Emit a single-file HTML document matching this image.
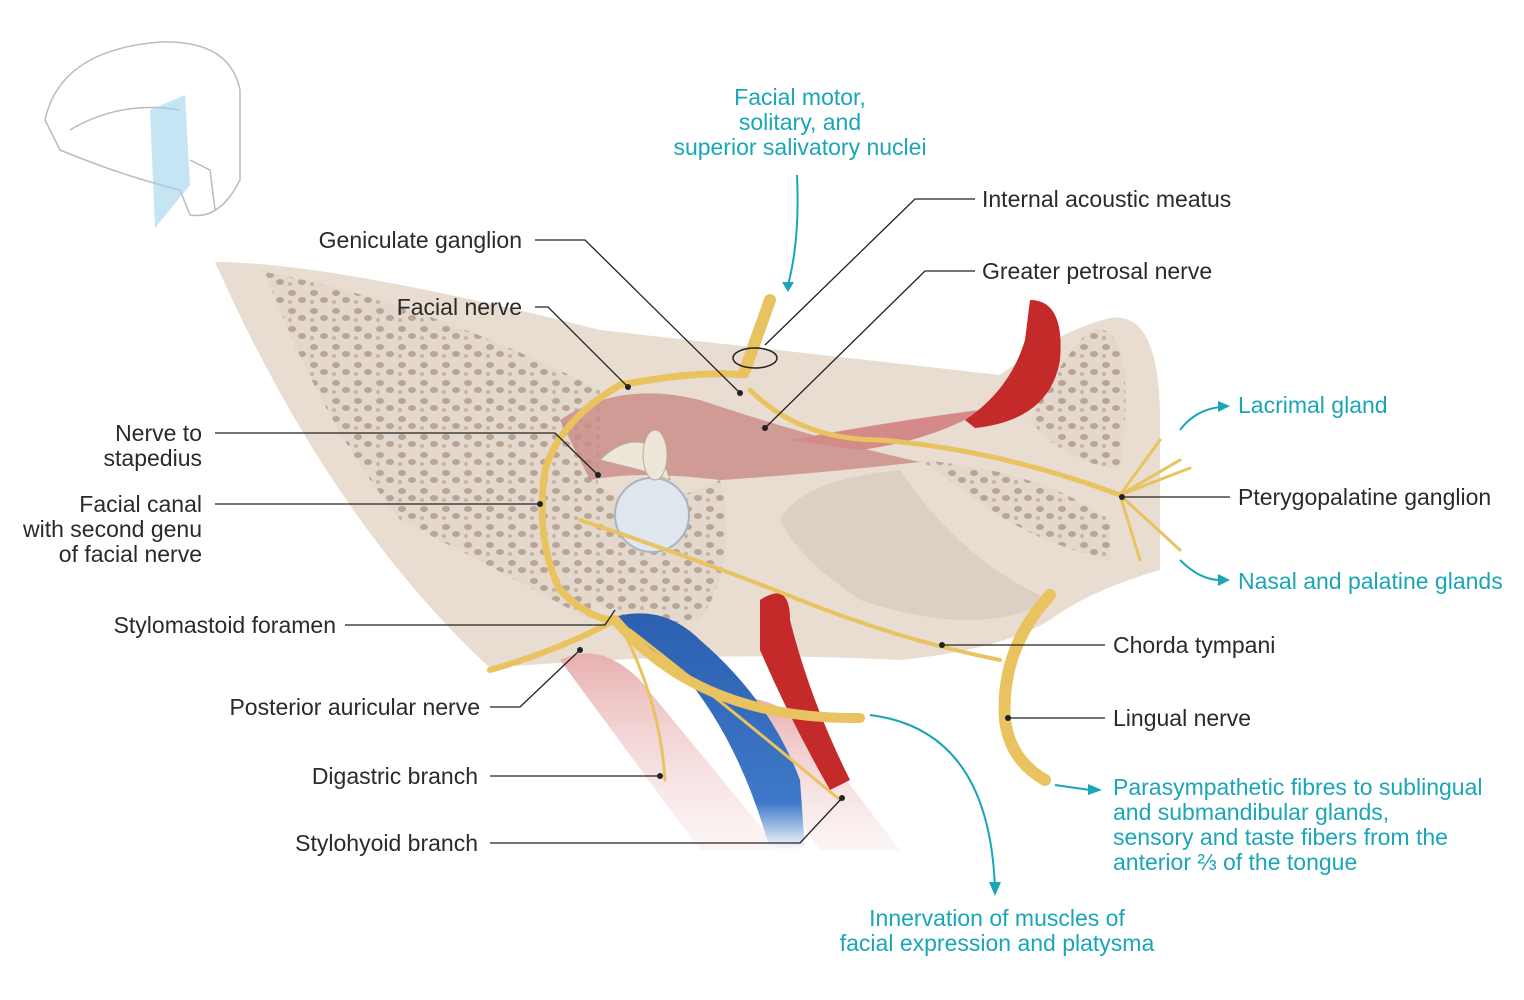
<!DOCTYPE html>
<html><head><meta charset="utf-8"><style>
html,body{margin:0;padding:0;background:#fff}
svg{display:block}
text{font-family:"Liberation Sans",sans-serif;font-size:23px;fill:#2a2a2a}
.c{fill:#1aa5b8}
</style></head><body>
<svg width="1524" height="1000" viewBox="0 0 1524 1000" xmlns="http://www.w3.org/2000/svg">
<defs>
<linearGradient id="mus" x1="0" y1="0" x2="0" y2="1"><stop offset="0" stop-color="#e8b0b0"/><stop offset="1" stop-color="#f5dede" stop-opacity="0.3"/></linearGradient>
<linearGradient id="vein" x1="0" y1="0" x2="0" y2="1"><stop offset="0" stop-color="#2c5fb0"/><stop offset="0.8" stop-color="#3f78c8"/><stop offset="1" stop-color="#ffffff"/></linearGradient>
<pattern id="por" width="22" height="18" patternUnits="userSpaceOnUse"><rect width="22" height="18" fill="#e4d8cc"/><ellipse cx="6" cy="5" rx="4" ry="3" fill="#b8a597"/><ellipse cx="16" cy="12" rx="4" ry="3" fill="#b8a597"/><ellipse cx="4" cy="14" rx="2" ry="2" fill="#c4b3a5"/></pattern>
</defs>
<!-- skull thumbnail -->
<g fill="none" stroke="#bbb" stroke-width="1.5">
<path d="M45,120 Q60,50 160,42 Q230,40 240,90 L240,180 Q220,220 190,215 L180,190 Q120,175 60,150 Z"/>
<path d="M70,130 Q120,100 180,110"/><path d="M190,160 L210,170 L215,210"/>
</g>
<path d="M150,110 L185,95 L190,185 L155,228 Z" fill="#9fd4ee" opacity="0.6"/>
<!-- bone -->
<path d="M215,262 Q330,262 600,330 L1000,375 Q1060,330 1110,318 Q1160,310 1160,420 L1160,570 Q1090,590 1050,620 Q1000,650 900,660 Q700,650 490,668 Q330,520 215,262 Z" fill="#e8ddd0"/>
<path d="M265,272 Q420,300 600,390 Q600,480 590,620 Q480,560 400,520 Q320,420 265,272 Z" fill="url(#por)"/>
<path d="M1090,330 Q1130,320 1125,420 L1120,470 Q1060,460 1030,420 Q1060,360 1090,330 Z" fill="url(#por)"/>
<path d="M920,460 Q1040,470 1110,520 L1110,560 Q1020,540 950,480 Z" fill="url(#por)"/>
<path d="M590,480 Q640,520 720,480 Q740,560 700,620 Q640,630 590,600 Z" fill="url(#por)"/>
<path d="M560,420 Q620,380 700,400 Q820,440 920,462 Q800,475 720,480 Q640,470 590,480 Z" fill="#c98a86" opacity="0.8"/>
<path d="M790,440 Q900,420 980,410 L1000,400 Q940,440 860,450 Z" fill="#d38a88"/>
<path d="M780,520 Q800,480 900,470 Q960,560 1050,600 Q980,640 860,600 Q800,560 780,520 Z" fill="#dcd0c4"/>
<!-- muscles & vessels -->
<path d="M560,660 Q600,640 640,680 L780,850 L700,850 Z" fill="url(#mus)"/>
<path d="M720,700 Q760,690 800,720 L900,850 L820,850 Z" fill="url(#mus)"/>
<path d="M605,620 Q660,600 700,640 Q770,700 800,780 L805,850 L770,850 Q740,740 680,670 Q640,640 605,620 Z" fill="url(#vein)"/>
<path d="M760,600 Q790,580 790,620 Q810,700 850,780 L830,790 Q790,720 760,650 Z" fill="#c42a2a"/>
<path d="M1030,300 Q1065,300 1060,360 Q1050,420 975,428 L965,420 Q1010,390 1025,340 Z" fill="#c42a2a"/>
<!-- ossicles & tympanic -->
<circle cx="652" cy="515" r="37" fill="#dfe6ee" stroke="#a9b4c2" stroke-width="2"/>
<path d="M600,460 Q630,430 660,450 L670,480 L640,470 Z" fill="#eee6d8" stroke="#b9ab98"/>
<ellipse cx="655" cy="455" rx="12" ry="25" fill="#eee6d8" stroke="#b9ab98"/>
<!-- nerves -->
<g fill="none" stroke="#e8c35f" stroke-linecap="round">
<path d="M770,300 L745,370" stroke-width="12"/>
<path d="M745,375 Q700,370 620,385 Q560,420 545,470 Q535,540 560,590 Q590,620 615,620" stroke-width="7"/>
<path d="M750,390 Q800,440 880,440 Q1000,450 1120,495" stroke-width="5"/>
<path d="M615,620 Q560,650 490,670" stroke-width="6"/>
<path d="M615,620 Q700,720 860,718" stroke-width="10"/>
<path d="M620,625 Q660,700 665,780" stroke-width="3"/>
<path d="M630,630 Q720,700 840,800" stroke-width="3"/>
<path d="M580,520 Q700,560 800,600 Q900,640 1000,660" stroke-width="4"/>
<path d="M1050,595 Q1000,650 1005,720 Q1010,760 1045,780" stroke-width="12"/>
<path d="M1120,495 L1180,460 M1120,495 L1190,468 M1120,495 L1140,560 M1120,495 L1180,550 M1120,495 L1160,440" stroke-width="3"/>
</g>
<ellipse cx="755" cy="358" rx="22" ry="10" fill="none" stroke="#222" stroke-width="1.5"/>
<!-- leaders -->
<g stroke="#222" stroke-width="1.3" fill="none">
<path d="M535,240 L585,240 L740,393"/>
<path d="M535,307 L548,307 L628,387"/>
<path d="M975,199 L915,199 L765,345"/>
<path d="M975,271 L925,271 L765,428"/>
<path d="M1230,497 L1122,497"/>
<path d="M1105,645 L942,645"/>
<path d="M1105,718 L1008,718"/>
<path d="M215,433 L555,433 L598,475"/>
<path d="M215,504 L540,504"/>
<path d="M345,625 L605,625 L615,610"/>
<path d="M490,707 L520,707 L580,650"/>
<path d="M490,776 L660,776"/>
<path d="M490,843 L800,843 L842,798"/>
</g>
<g fill="#222"><circle cx="740" cy="393" r="3"/><circle cx="628" cy="387" r="3"/><circle cx="765" cy="428" r="3"/><circle cx="1122" cy="497" r="3"/><circle cx="942" cy="645" r="3"/><circle cx="1008" cy="718" r="3"/><circle cx="598" cy="475" r="3"/><circle cx="540" cy="504" r="3"/><circle cx="580" cy="650" r="3"/><circle cx="660" cy="776" r="3"/><circle cx="842" cy="798" r="3"/></g>
<!-- cyan arrows -->
<g stroke="#1aa5b8" stroke-width="2" fill="none">
<path d="M797,175 Q800,240 788,285"/>
<path d="M1180,430 Q1195,410 1220,407"/>
<path d="M1180,560 Q1200,580 1220,580"/>
<path d="M1055,785 L1090,790"/>
<path d="M870,715 Q990,730 995,890"/>
</g>
<g fill="#1aa5b8"><path d="M782,282 L794,282 L788,292 Z"/><path d="M1218,401 L1230,406 L1218,412 Z"/><path d="M1218,574 L1230,580 L1218,586 Z"/><path d="M1088,784 L1102,790 L1088,795 Z"/><path d="M989,882 L1001,882 L995,896 Z"/></g>
<!-- labels -->
<text x="800" y="105" text-anchor="middle" class="c">Facial motor,</text>
<text x="800" y="130" text-anchor="middle" class="c">solitary, and</text>
<text x="800" y="155" text-anchor="middle" class="c">superior salivatory nuclei</text>
<text x="982" y="207">Internal acoustic meatus</text>
<text x="982" y="279">Greater petrosal nerve</text>
<text x="522" y="248" text-anchor="end">Geniculate ganglion</text>
<text x="522" y="315" text-anchor="end">Facial nerve</text>
<text x="1238" y="413" class="c">Lacrimal gland</text>
<text x="1238" y="505">Pterygopalatine ganglion</text>
<text x="1238" y="589" class="c">Nasal and palatine glands</text>
<text x="1113" y="653">Chorda tympani</text>
<text x="1113" y="726">Lingual nerve</text>
<text x="1113" y="795" class="c">Parasympathetic fibres to sublingual</text>
<text x="1113" y="820" class="c">and submandibular glands,</text>
<text x="1113" y="845" class="c">sensory and taste fibers from the</text>
<text x="1113" y="870" class="c">anterior ⅔ of the tongue</text>
<text x="997" y="926" text-anchor="middle" class="c">Innervation of muscles of</text>
<text x="997" y="951" text-anchor="middle" class="c">facial expression and platysma</text>
<text x="202" y="441" text-anchor="end">Nerve to</text>
<text x="202" y="466" text-anchor="end">stapedius</text>
<text x="202" y="512" text-anchor="end">Facial canal</text>
<text x="202" y="537" text-anchor="end">with second genu</text>
<text x="202" y="562" text-anchor="end">of facial nerve</text>
<text x="336" y="633" text-anchor="end">Stylomastoid foramen</text>
<text x="480" y="715" text-anchor="end">Posterior auricular nerve</text>
<text x="478" y="784" text-anchor="end">Digastric branch</text>
<text x="478" y="851" text-anchor="end">Stylohyoid branch</text>
</svg>
</body></html>
